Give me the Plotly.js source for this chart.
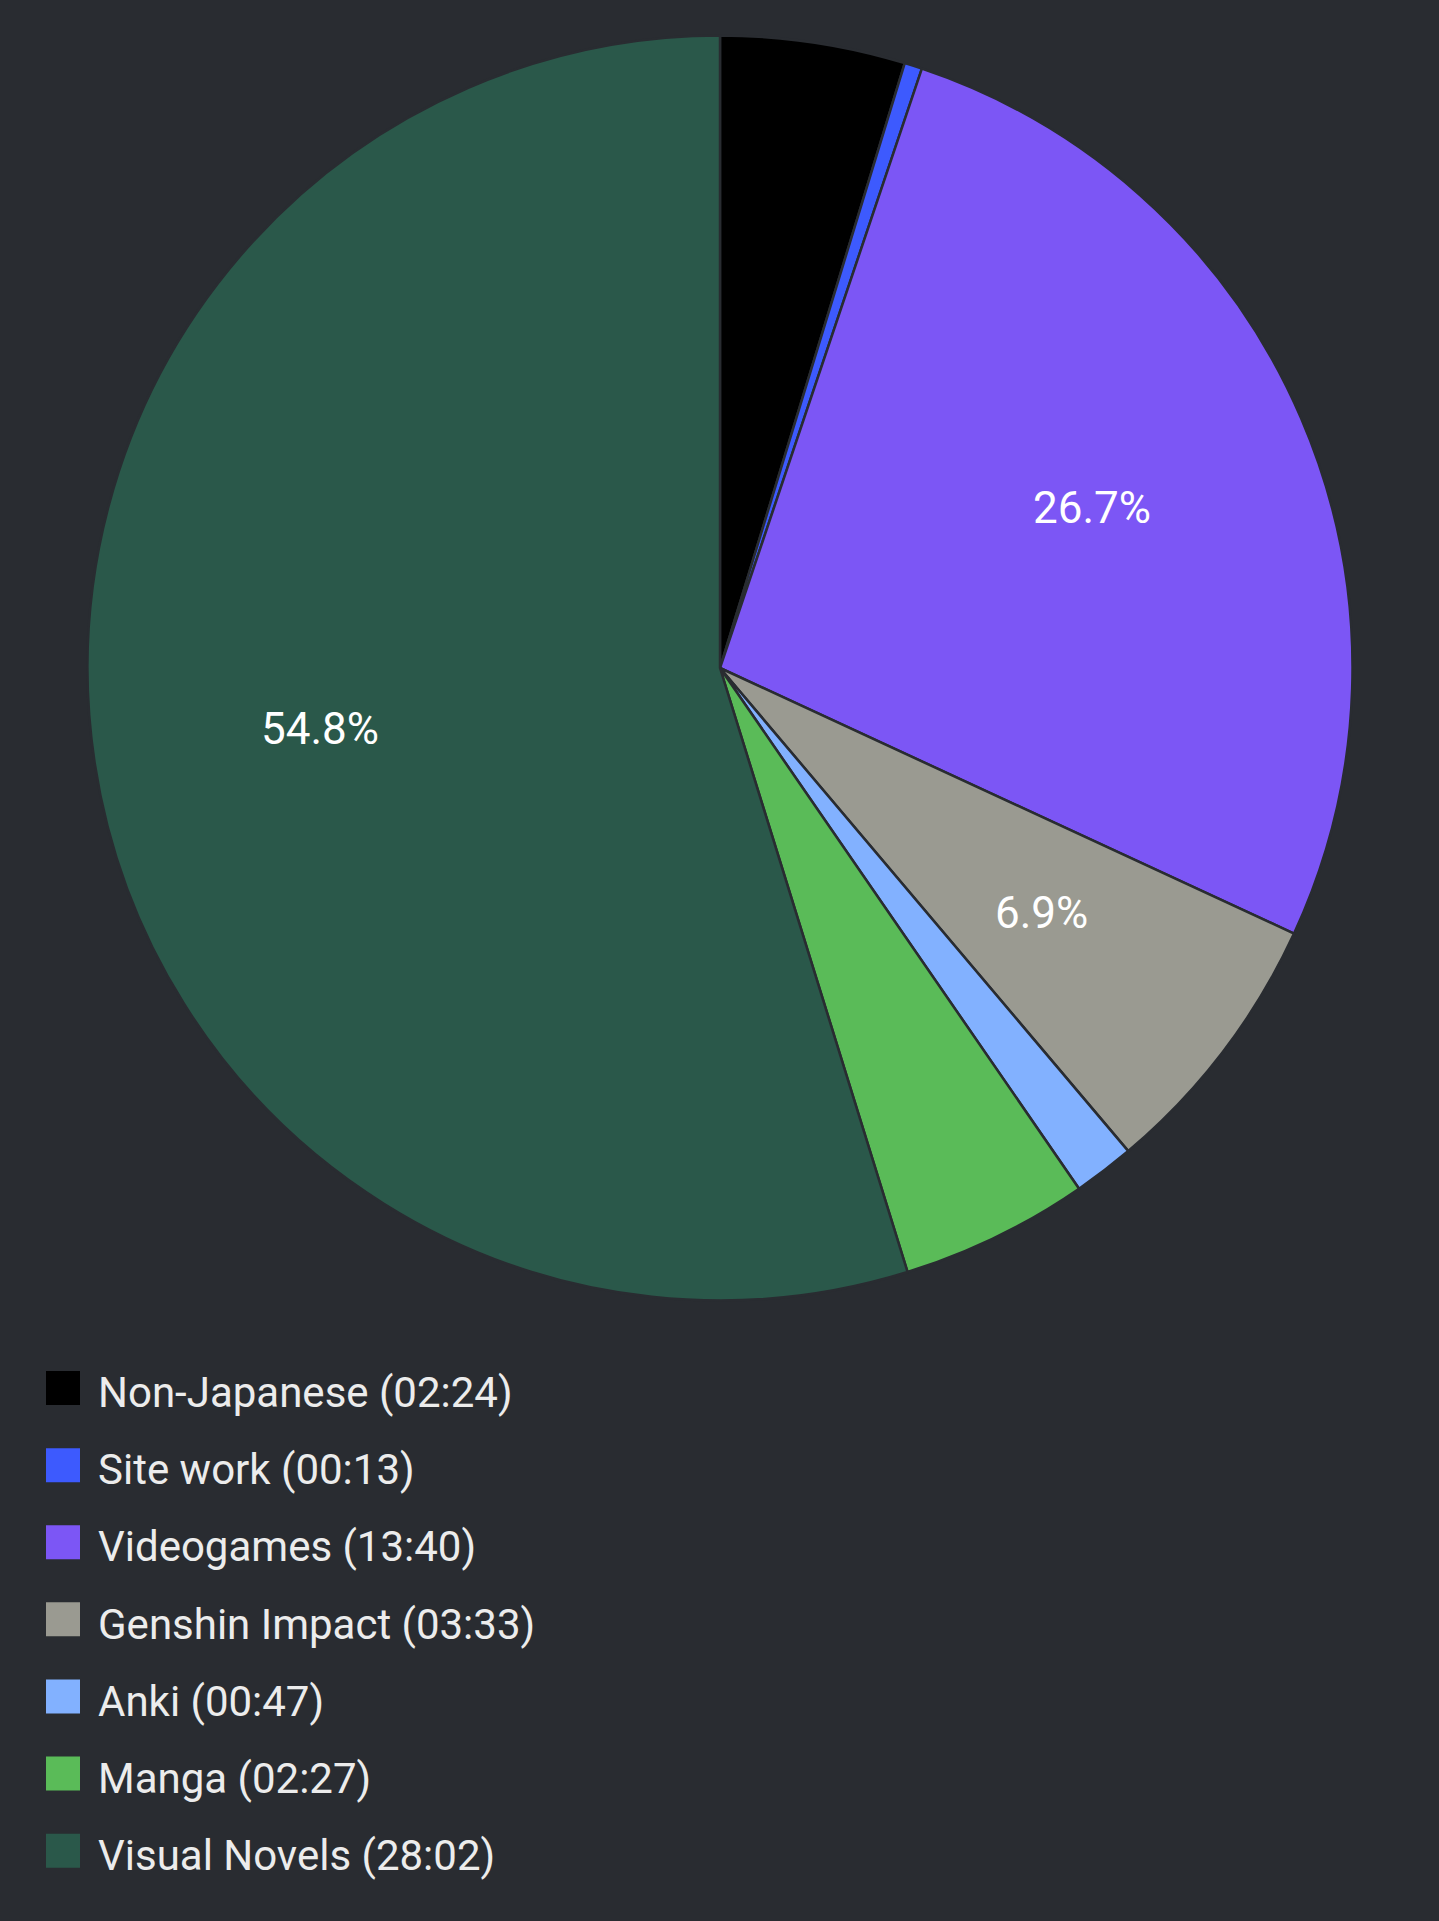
<!DOCTYPE html>
<html>
<head>
<meta charset="utf-8">
<script src="https://cdn.plot.ly/plotly-3.0.1.min.js"></script>
<style>
  html, body { margin: 0; padding: 0; background: #292c31; }
  #chart { width: 1439px; height: 1921px; }
</style>
</head>
<body>
<div id="chart"></div>
<script>
// Data (minutes; legend shows hh:mm)
const categories = ["Non-Japanese", "Site work", "Videogames", "Genshin Impact", "Anki", "Manga", "Visual Novels"];
const durations  = ["02:24", "00:13", "13:40", "03:33", "00:47", "02:27", "28:02"];
const minutes    = [144.9, 13.9, 820.9, 213.0, 47.9, 147.9, 1682.9];
const colors     = ["#000000", "#3d5afe", "#7c56f5", "#9a9a91", "#82b1ff", "#5abb58", "#2a584a"];

const W = 1439, H = 1921;
const dom = { x: [87.5 / W, 1352.5 / W], y: [1 - 1300.5 / H, 1 - 35.5 / H] };

const total = minutes.reduce((a, b) => a + b, 0);
const legendLabels = categories.map((c, i) =>
  '<span style="font-size:42px">' + c + ' (' + durations[i] + ')</span>');

// percentage labels for slices above 5%, placed at 0.64 of the radius on each slice's mid-angle
const cx = (dom.x[0] + dom.x[1]) / 2, cy = (dom.y[0] + dom.y[1]) / 2;
const rx = (dom.x[1] - dom.x[0]) / 2, ry = (dom.y[1] - dom.y[0]) / 2;
const annotations = [];
let cum = 0;
minutes.forEach(v => {
  const frac = v / total;
  const mid = 2 * Math.PI * (cum + v / 2) / total;
  cum += v;
  if (frac > 0.05) {
    annotations.push({
      xref: 'paper', yref: 'paper',
      x: cx + 0.64 * rx * Math.sin(mid),
      y: cy + 0.64 * ry * Math.cos(mid),
      xanchor: 'center', yanchor: 'middle',
      text: (frac * 100).toFixed(1) + '%',
      showarrow: false,
      font: { family: 'Roboto', size: 44, color: '#ffffff' }
    });
  }
});

const trace = {
  type: 'pie',
  labels: legendLabels,
  values: minutes,
  sort: false,
  direction: 'clockwise',
  rotation: 0,
  marker: { colors: colors, line: { color: '#292c31', width: 2.5 } },
  textinfo: 'none',
  hoverinfo: 'none',
  domain: dom
};

const layout = {
  width: W,
  height: H,
  margin: { l: 0, r: 0, t: 0, b: 0, autoexpand: false },
  paper_bgcolor: '#292c31',
  plot_bgcolor: '#292c31',
  showlegend: true,
  annotations: annotations,
  legend: {
    xref: 'container', yref: 'container',
    x: 28 / W, y: 1 - 1341.5 / H,
    xanchor: 'left', yanchor: 'top',
    orientation: 'v',
    itemwidth: 60,
    font: { family: 'Roboto', size: 57, color: '#ececec' },
    bgcolor: 'rgba(0,0,0,0)',
    itemclick: false, itemdoubleclick: false
  },
  font: { family: 'Roboto' }
};

Plotly.newPlot('chart', [trace], layout, { staticPlot: true, displayModeBar: false }).then(() => {
  document.querySelectorAll('path.legendpie').forEach(p => {
    p.setAttribute('d', 'M17,20H-17V-14H17Z');
    p.style.strokeWidth = '0px';
  });
});
</script>
</body>
</html>
